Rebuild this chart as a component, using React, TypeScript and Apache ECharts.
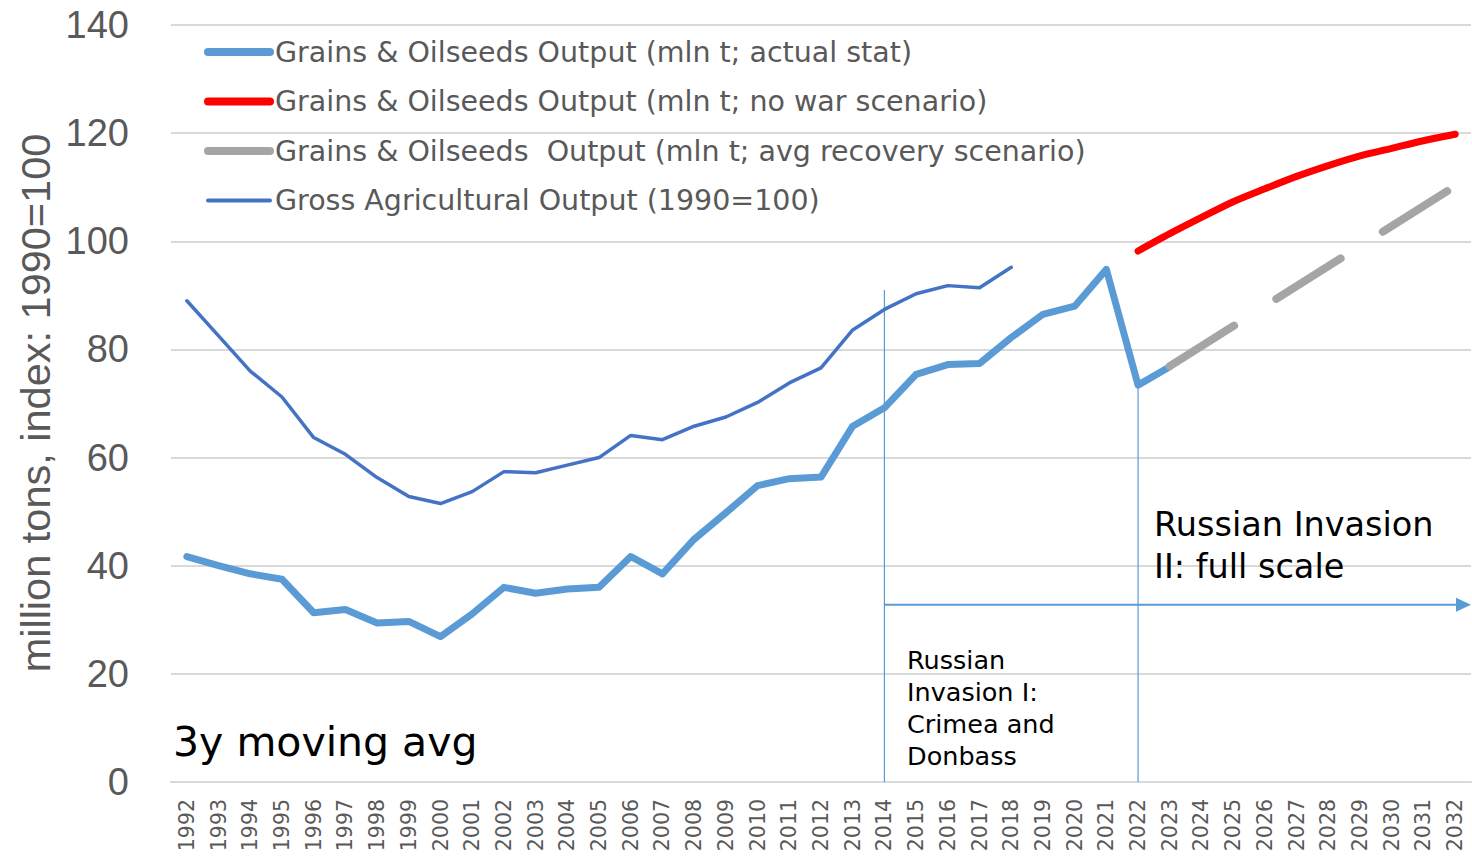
import React, { useEffect, useRef } from "react";
import * as echarts from "echarts";

const years = [
  "1992", "1993", "1994", "1995", "1996", "1997", "1998", "1999", "2000", "2001",
  "2002", "2003", "2004", "2005", "2006", "2007", "2008", "2009", "2010", "2011",
  "2012", "2013", "2014", "2015", "2016", "2017", "2018", "2019", "2020", "2021",
  "2022", "2023", "2024", "2025", "2026", "2027", "2028", "2029", "2030", "2031", "2032",
];

const grainsActual = [
  41.7, 40.0, 38.5, 37.5, 31.3, 31.9, 29.4, 29.7, 26.9, 31.1,
  36.0, 34.9, 35.7, 36.0, 41.7, 38.5, 44.9, 49.8, 54.8, 56.1,
  56.4, 65.8, 69.2, 75.4, 77.2, 77.4, 82.2, 86.5, 88.0, 94.8,
  73.4, 76.8, null, null, null, null, null, null, null, null, null,
];

const grainsNoWar = [
  null, null, null, null, null, null, null, null, null, null,
  null, null, null, null, null, null, null, null, null, null,
  null, null, null, null, null, null, null, null, null, null,
  98.2, 101.4, 104.4, 107.3, 109.7, 112.0, 114.0, 115.8, 117.2, 118.6, 119.8,
];

const grainsRecovery = [
  null, null, null, null, null, null, null, null, null, null,
  null, null, null, null, null, null, null, null, null, null,
  null, null, null, null, null, null, null, null, null, null,
  null, 76.9, 80.6, 84.3, 88.0, 91.7, 95.4, 99.1, 102.8, 106.5, 110.2,
];

const grossAgri = [
  89.0, 82.5, 76.0, 71.2, 63.7, 60.6, 56.3, 52.8, 51.5, 53.7,
  57.4, 57.2, 58.6, 60.0, 64.1, 63.3, 65.8, 67.5, 70.2, 73.8,
  76.6, 83.6, 87.4, 90.3, 91.8, 91.4, 95.2, null, null, null,
  null, null, null, null, null, null, null, null, null, null, null,
];

const seriesNames = [
  "Grains & Oilseeds Output (mln t; actual stat)",
  "Grains & Oilseeds Output (mln t; no war scenario)",
  "Grains & Oilseeds  Output (mln t; avg recovery scenario)",
  "Gross Agricultural Output (1990=100)",
];

const yTicks = { min: 0, max: 140, interval: 20 };
const yAxisTitle = "million tons, index: 1990=100";

// annotation anchors (in data terms)
const invasion1Year = "2014";
const invasion1Top = 91;
const invasion2Year = "2022";
const invasion2Top = 74.2;
const arrowValue = 32.8;

const annot3y = "3y moving avg";
const annotInv2 = "Russian Invasion\nII: full scale";
const annotInv1 = "Russian\nInvasion I:\nCrimea and\nDonbass";

const C_LIGHT = "#5B9BD5";
const C_RED = "#FF0000";
const C_GRAY = "#A5A5A5";
const C_DARK = "#4472C4";
const C_TEXT = "#595959";
const C_GRID = "#D9D9D9";

const GRID_LEFT = 171;
const GRID_RIGHT = 1;

export default function App() {
  const ref = useRef<HTMLDivElement>(null);

  useEffect(() => {
    if (!ref.current) return;
    const chart = echarts.init(ref.current, null, { renderer: "svg" });
    const legendFont = { fontFamily: "DejaVu Sans", fontSize: 28.5, color: C_TEXT, lineHeight: 30 };
    const hiddenSymbol = { opacity: 0, color: "transparent", borderWidth: 0 };
    const option: any = {
      animation: false,
      backgroundColor: "#ffffff",
      grid: { left: GRID_LEFT, right: GRID_RIGHT, top: 25, bottom: 80, containLabel: false },
      legend: {
        orient: "vertical",
        left: 204,
        top: 37,
        padding: 0,
        itemWidth: 62,
        itemHeight: 14,
        itemGap: 19.5,
        textStyle: legendFont,
        data: [
          { name: seriesNames[0], itemStyle: hiddenSymbol, lineStyle: { color: C_LIGHT, width: 8, cap: "round", type: "solid" } },
          { name: seriesNames[1], itemStyle: hiddenSymbol, lineStyle: { color: C_RED, width: 8, cap: "round", type: "solid" } },
          { name: seriesNames[2], itemStyle: hiddenSymbol, lineStyle: { color: C_GRAY, width: 8, cap: "round", type: "solid" } },
          { name: seriesNames[3], itemStyle: hiddenSymbol, lineStyle: { color: C_DARK, width: 4, cap: "round", type: "solid" } },
        ],
      },
      xAxis: {
        type: "category",
        data: years,
        boundaryGap: true,
        axisLine: { show: true, lineStyle: { color: C_GRID, width: 2 } },
        axisTick: { show: false },
        axisLabel: {
          interval: 0,
          rotate: 90,
          margin: 17,
          fontFamily: "DejaVu Sans",
          fontSize: 20.5,
          color: C_TEXT,
        },
        splitLine: { show: false },
      },
      yAxis: {
        type: "value",
        min: yTicks.min,
        max: yTicks.max,
        interval: yTicks.interval,
        axisLine: { show: false },
        axisTick: { show: false },
        axisLabel: {
          margin: 42,
          fontFamily: "Liberation Sans",
          fontSize: 38,
          color: C_TEXT,
        },
        splitLine: { show: true, lineStyle: { color: C_GRID, width: 2 } },
      },
      series: [
        {
          name: seriesNames[0],
          type: "line",
          data: grainsActual,
          symbol: "none",
          z: 3,
          lineStyle: { color: C_LIGHT, width: 7, cap: "round", join: "round" },
          itemStyle: { color: C_LIGHT },
        },
        {
          name: seriesNames[1],
          type: "line",
          data: grainsNoWar,
          symbol: "none",
          smooth: 0.3,
          z: 3,
          lineStyle: { color: C_RED, width: 7, cap: "round", join: "round" },
          itemStyle: { color: C_RED },
        },
        {
          name: seriesNames[2],
          type: "line",
          data: grainsRecovery,
          symbol: "none",
          z: 4,
          lineStyle: { color: C_GRAY, width: 8, cap: "round", join: "round", type: [76, 50] },
          itemStyle: { color: C_GRAY },
        },
        {
          name: seriesNames[3],
          type: "line",
          data: grossAgri,
          symbol: "none",
          z: 3,
          lineStyle: { color: C_DARK, width: 3.5, cap: "round", join: "round" },
          itemStyle: { color: C_DARK },
        },
      ],
    };
    chart.setOption(option);

    const px = (cat: string, v: number) =>
      chart.convertToPixel({ gridIndex: 0 }, [cat, v]) as number[];
    const v1Bottom = px(invasion1Year, 0);
    const v1Top = px(invasion1Year, invasion1Top);
    const v2Bottom = px(invasion2Year, 0);
    const v2Top = px(invasion2Year, invasion2Top);
    const start = px(invasion1Year, arrowValue);
    const endX = chart.getWidth() - GRID_RIGHT;
    const ay = start[1];
    const lineStyle = { stroke: C_LIGHT, lineWidth: 1.2 };

    chart.setOption({
      graphic: [
        {
          type: "text",
          x: 35,
          y: 403,
          rotation: Math.PI / 2,
          style: {
            text: yAxisTitle,
            fontFamily: "Liberation Sans",
            fontSize: 41.5,
            fill: C_TEXT,
            textAlign: "center",
            textVerticalAlign: "middle",
          },
        },
        {
          type: "line",
          z: 1,
          shape: { x1: v1Bottom[0], y1: v1Bottom[1], x2: v1Top[0], y2: v1Top[1] },
          style: lineStyle,
        },
        {
          type: "line",
          z: 1,
          shape: { x1: v2Bottom[0], y1: v2Bottom[1], x2: v2Top[0], y2: v2Top[1] },
          style: lineStyle,
        },
        {
          type: "line",
          shape: { x1: start[0], y1: ay, x2: endX - 10, y2: ay },
          style: { stroke: C_LIGHT, lineWidth: 2 },
        },
        {
          type: "polygon",
          shape: { points: [[endX - 15, ay - 7], [endX, ay], [endX - 15, ay + 7]] },
          style: { fill: C_LIGHT },
        },
        {
          type: "text",
          x: 173,
          y: 742,
          style: {
            text: annot3y,
            fontFamily: "DejaVu Sans",
            fontSize: 41,
            fill: "#000000",
            textAlign: "left",
            textVerticalAlign: "middle",
          },
        },
        {
          type: "text",
          x: 1154,
          y: 503,
          style: {
            text: annotInv2,
            fontFamily: "DejaVu Sans",
            fontSize: 33.5,
            lineHeight: 42,
            fill: "#000000",
            textAlign: "left",
            textVerticalAlign: "top",
          },
        },
        {
          type: "text",
          x: 907,
          y: 644,
          style: {
            text: annotInv1,
            fontFamily: "DejaVu Sans",
            fontSize: 25.5,
            lineHeight: 32,
            fill: "#000000",
            textAlign: "left",
            textVerticalAlign: "top",
          },
        },
      ],
    });

    return () => chart.dispose();
  }, []);

  return (
    <div
      ref={ref}
      style={{ position: "fixed", left: 0, top: 0, width: 1472, height: 862, background: "#fff" }}
    />
  );
}
